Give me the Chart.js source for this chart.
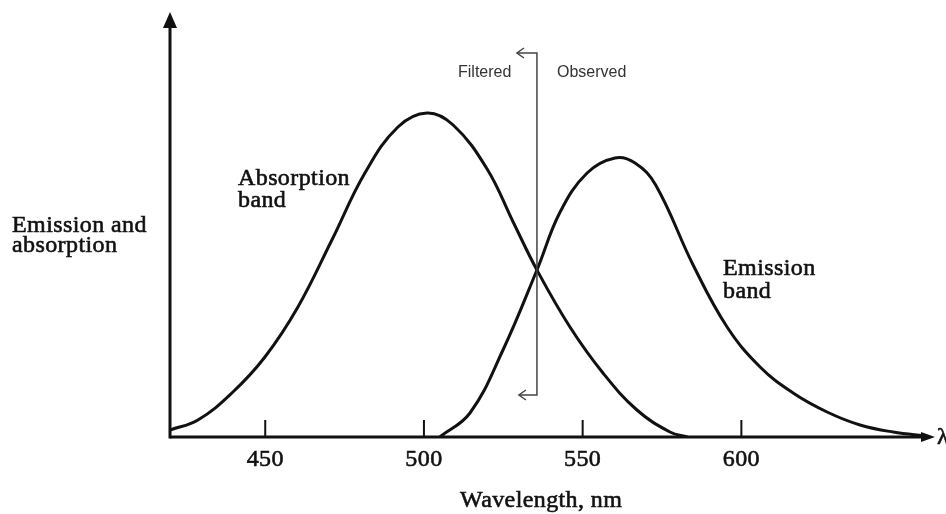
<!DOCTYPE html>
<html lang="en">
<head>
    <meta charset="UTF-8">
    <title>Emission and absorption bands</title>
    <script src="https://cdn.jsdelivr.net/npm/chart.js"></script>
    <style>
        body { margin: 0; background: #fff; }
        canvas { display: block; }
    </style>
</head>
<body>
    <canvas id="bandChart" width="946" height="514"></canvas>
    <script>
        // values (wavelength in nm, height in arbitrary units)
        const absWavelength = [420, 428.8, 439.5, 449.9, 460.3, 471, 481.4, 491.8, 501, 509.2, 519.9, 528.1, 535.6, 546, 556.4, 567.1, 577.5, 583];
        const absValues     = [7, 17, 44, 80, 130, 197, 264, 310, 324, 312, 268, 215, 167, 110, 64, 27, 5, 0];

        const emWavelength = [505, 514.5, 524.9, 535.6, 542.9, 551.4, 560.2, 566.5, 573, 584.8, 595.5, 605.9, 616.3, 627, 637.4, 647.8, 658.5];
        const emValues     = [0, 24, 87, 167, 225, 264, 279, 274, 252, 172, 110, 70, 44, 25, 12, 5, 1];

        const tickLabels = [450, 500, 550, 600];
        const filterWavelength = 535.6;

        const toPoints = (xs, ys) => xs.map((x, i) => ({ x: x, y: ys[i] }));

        // serif text drawn slightly heavy, like the scanned print
        function heavyText(ctx, text, x, y) {
            ctx.fillText(text, x, y);
            ctx.strokeText(text, x, y);
        }

        // axes, tick marks, filter marker and labels
        const decorations = {
            id: "decorations",
            afterDraw(chart) {
                const ctx = chart.ctx;
                const xs = chart.scales.x;
                const ys = chart.scales.y;
                const left = xs.left, right = xs.right;
                const top = ys.top, base = ys.getPixelForValue(0);

                ctx.save();
                ctx.strokeStyle = "#111";
                ctx.fillStyle = "#111";
                ctx.lineWidth = 3;

                // y axis with arrow
                ctx.beginPath();
                ctx.moveTo(left, base + 1.5);
                ctx.lineTo(left, top + 14);
                ctx.stroke();
                ctx.beginPath();
                ctx.moveTo(left, top);
                ctx.lineTo(left - 7, top + 16);
                ctx.lineTo(left + 7, top + 16);
                ctx.closePath();
                ctx.fill();

                // x axis with arrow
                ctx.beginPath();
                ctx.moveTo(left, base);
                ctx.lineTo(right - 12, base);
                ctx.stroke();
                ctx.beginPath();
                ctx.moveTo(right, base);
                ctx.lineTo(right - 14, base - 5);
                ctx.lineTo(right - 14, base + 5);
                ctx.closePath();
                ctx.fill();

                // tick marks and labels
                ctx.lineWidth = 2;
                tickLabels.forEach(t => {
                    const px = xs.getPixelForValue(t);
                    ctx.beginPath();
                    ctx.moveTo(px, base);
                    ctx.lineTo(px, base - 17);
                    ctx.stroke();
                });

                ctx.lineWidth = 0.6;
                ctx.font = "24px 'Liberation Serif', serif";
                ctx.letterSpacing = "0.4px";
                ctx.textAlign = "center";
                ctx.textBaseline = "alphabetic";
                tickLabels.forEach(t => {
                    heavyText(ctx, String(t), xs.getPixelForValue(t), 466);
                });

                // axis titles and band labels
                ctx.textAlign = "left";
                heavyText(ctx, "Wavelength, nm", 460, 507);
                heavyText(ctx, "Emission and", 12, 232);
                heavyText(ctx, "absorption", 12, 252);
                heavyText(ctx, "Absorption", 238, 185);
                heavyText(ctx, "band", 238, 207);
                heavyText(ctx, "Emission", 723, 275);
                heavyText(ctx, "band", 723, 298);
                // axis symbol cut off at the right edge
                heavyText(ctx, "λ", 937, 444);

                // filter marker
                const fx = xs.getPixelForValue(filterWavelength);
                ctx.letterSpacing = "0px";
                ctx.strokeStyle = "#444";
                ctx.lineWidth = 1.5;
                ctx.beginPath();
                ctx.moveTo(fx - 20, 53);
                ctx.lineTo(fx, 53);
                ctx.lineTo(fx, 395);
                ctx.lineTo(fx - 18, 395);
                ctx.stroke();
                [[fx - 20, 53], [fx - 18, 395]].forEach(([ax, ay]) => {
                    ctx.beginPath();
                    ctx.moveTo(ax + 7, ay - 5);
                    ctx.lineTo(ax, ay);
                    ctx.lineTo(ax + 7, ay + 5);
                    ctx.stroke();
                });

                ctx.fillStyle = "#333";
                ctx.font = "16px 'Liberation Sans', sans-serif";
                ctx.fillText("Filtered", 458, 77);
                ctx.fillText("Observed", 557, 77);
                ctx.restore();
            }
        };

        const lineStyle = {
            borderColor: "#111",
            borderWidth: 3,
            pointRadius: 0,
            fill: false,
            tension: 0.4
        };

        new Chart(document.getElementById("bandChart"), {
            type: "line",
            data: {
                datasets: [
                    Object.assign({ label: "Absorption band", data: toPoints(absWavelength, absValues) }, lineStyle),
                    Object.assign({ label: "Emission band", data: toPoints(emWavelength, emValues) }, lineStyle)
                ]
            },
            options: {
                responsive: false,
                animation: false,
                layout: { padding: { left: 170, right: 11, top: 12, bottom: 77 } },
                plugins: {
                    legend: { display: false },
                    tooltip: { enabled: false }
                },
                scales: {
                    x: { type: "linear", min: 420, max: 661, display: false },
                    y: { min: 0, max: 425, display: false }
                }
            },
            plugins: [decorations]
        });
    </script>
</body>
</html>
